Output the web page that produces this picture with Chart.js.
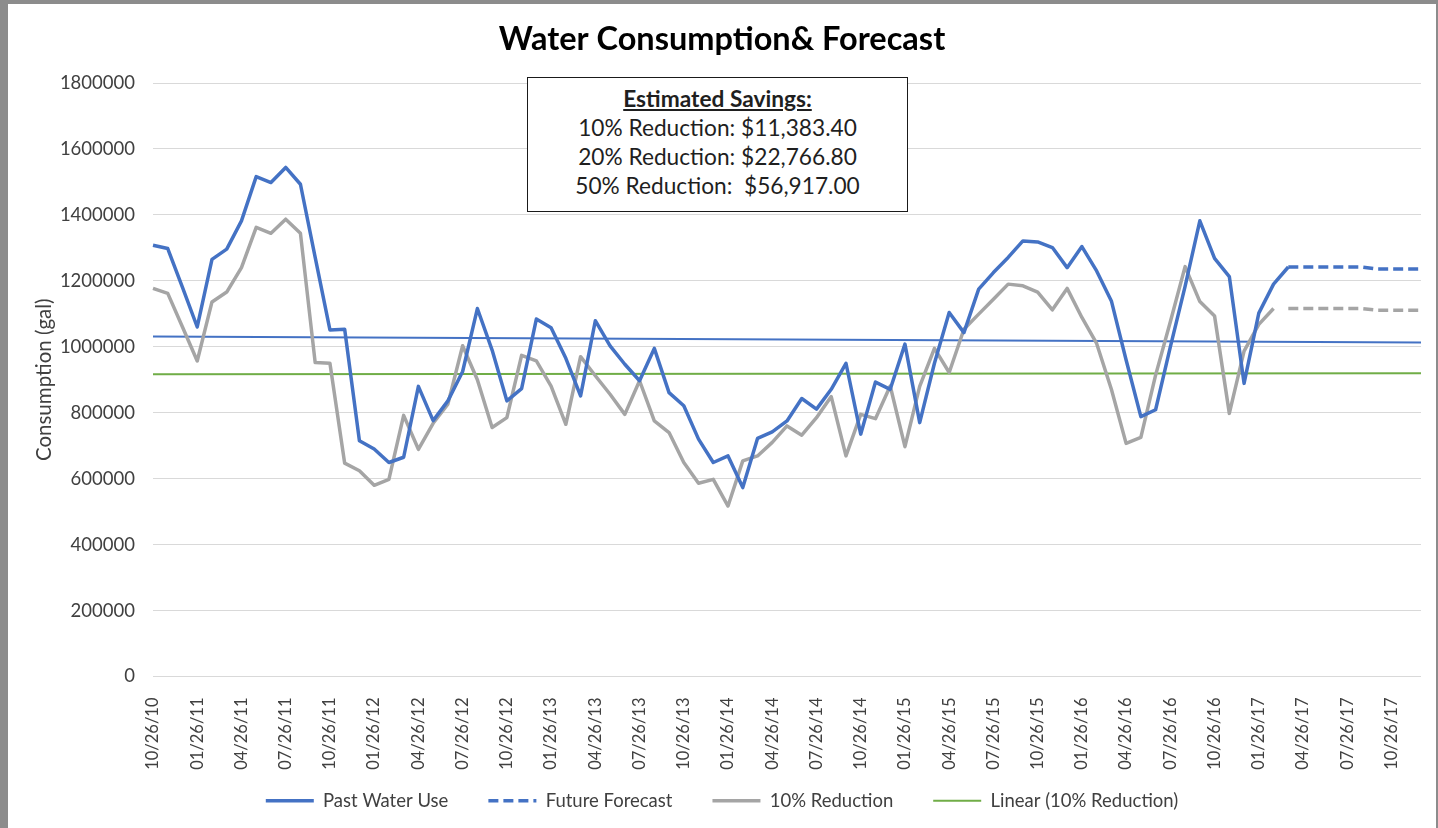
<!DOCTYPE html>
<html>
<head>
<meta charset="utf-8">
<title>Water Consumption& Forecast</title>
<script src="https://cdn.jsdelivr.net/npm/chart.js@4.4.1/dist/chart.umd.min.js"></script>
<style>
  html, body { margin: 0; padding: 0; background: #8c8c8c; overflow: hidden; }
  #frame { position: absolute; left: 8px; top: 4px; width: 1428px; height: 824px; background: #fff; }
  #waterChart { position: absolute; left: 0; top: 0; }
  #savings {
    position: absolute; left: 519px; top: 73px; width: 381px; height: 135px;
    box-sizing: border-box; border: 1px solid #1a1a1a; background: #fff;
    font-family: Lato, sans-serif; font-size: 22.7px; line-height: 29px; color: #1f1f1f;
    text-align: center; white-space: pre; padding-top: 6px;
  }
  #savings b { text-decoration: underline; }
</style>
</head>
<body>
<div id="frame">
  <canvas id="waterChart" width="1428" height="824"></canvas>
  <div id="savings"><b>Estimated Savings:</b>
10% Reduction: $11,383.40
20% Reduction: $22,766.80
50% Reduction:  $56,917.00</div>
</div>
<script>
// months on the x axis (every third one gets a label)
const months = [
	'10/26/10', '11/26/10', '12/26/10',
	'01/26/11', '02/26/11', '03/26/11', '04/26/11', '05/26/11', '06/26/11', '07/26/11', '08/26/11', '09/26/11', '10/26/11', '11/26/11', '12/26/11',
	'01/26/12', '02/26/12', '03/26/12', '04/26/12', '05/26/12', '06/26/12', '07/26/12', '08/26/12', '09/26/12', '10/26/12', '11/26/12', '12/26/12',
	'01/26/13', '02/26/13', '03/26/13', '04/26/13', '05/26/13', '06/26/13', '07/26/13', '08/26/13', '09/26/13', '10/26/13', '11/26/13', '12/26/13',
	'01/26/14', '02/26/14', '03/26/14', '04/26/14', '05/26/14', '06/26/14', '07/26/14', '08/26/14', '09/26/14', '10/26/14', '11/26/14', '12/26/14',
	'01/26/15', '02/26/15', '03/26/15', '04/26/15', '05/26/15', '06/26/15', '07/26/15', '08/26/15', '09/26/15', '10/26/15', '11/26/15', '12/26/15',
	'01/26/16', '02/26/16', '03/26/16', '04/26/16', '05/26/16', '06/26/16', '07/26/16', '08/26/16', '09/26/16', '10/26/16', '11/26/16', '12/26/16',
	'01/26/17', '02/26/17', '03/26/17', '04/26/17', '05/26/17', '06/26/17', '07/26/17', '08/26/17', '09/26/17', '10/26/17', '11/26/17', '12/26/17',
]

// gallons per month
const pastUse = [
	1308000, 1298000, 1180000, 1060000, 1265000, 1296000, 1382000, 1516000, 1498000, 1544000,
	1493000, 1271000, 1051000, 1053000, 715000, 690000, 649000, 665000, 880000, 776000,
	836000, 925000, 1116000, 990000, 836000, 873000, 1084000, 1058000, 965000, 851000,
	1079000, 1003000, 947000, 897000, 995000, 861000, 821000, 720000, 649000, 669000,
	573000, 722000, 742000, 775000, 843000, 811000, 871000, 950000, 735000, 893000,
	871000, 1008000, 770000, 950000, 1104000, 1043000, 1175000, 1225000, 1271000, 1321000,
	1318000, 1301000, 1240000, 1304000, 1230000, 1139000, 960000, 788000, 809000, 1000000,
	1183000, 1382000, 1268000, 1213000, 889000, 1102000, 1190000, 1242000,
]
const reduction10 = [
	1177000, 1162000, 1060000, 957000, 1136000, 1166000, 1240000, 1362000, 1344000, 1387000,
	1344000, 952000, 950000, 647000, 624000, 580000, 598000, 792000, 689000, 768000,
	826000, 1003000, 900000, 755000, 785000, 974000, 957000, 881000, 765000, 970000,
	912000, 856000, 795000, 897000, 775000, 740000, 649000, 586000, 598000, 517000,
	654000, 669000, 710000, 760000, 732000, 785000, 849000, 669000, 795000, 782000,
	881000, 697000, 880000, 995000, 922000, 1053000, 1099000, 1144000, 1190000, 1185000,
	1166000, 1112000, 1177000, 1089000, 1010000, 871000, 707000, 725000, 914000, 1076000,
	1243000, 1137000, 1093000, 798000, 987000, 1068000, 1116000,
]
// forecasts start at the last month of past use (03/26/17)
const futureForecast = [1242000, 1242000, 1242000, 1242000, 1242000, 1242000, 1236000, 1236000, 1236000, 1236000]
const reductionForecast = [1116000, 1116000, 1116000, 1116000, 1116000, 1116000, 1111000, 1111000, 1111000, 1111000]
// trendlines, first and last month
const pastTrend = [1031000, 1013000]
const reductionTrend = [917000, 920000]

const legendNames = ['Past Water Use', 'Future Forecast', '10% Reduction', 'Linear (10% Reduction)']

const BLUE = '#4472C4'
const GRAY = '#A5A5A5'
const GREEN = '#70AD47'
const TXT = '#404040'

const forecastStart = pastUse.length - 1
const asPoints = (vals, start) => vals.map((v, i) => ({ x: months[start + i], y: v }))
const trendPoints = vals => [{ x: months[0], y: vals[0] }, { x: months[months.length - 1], y: vals[1] }]

const ctx = document.getElementById('waterChart').getContext('2d')
const myChart = new Chart(ctx, {
	type: 'line',
	data: {
		labels: months,
		datasets: [
			{ label: 'Past Water Use', data: pastUse, borderColor: BLUE, borderWidth: 3.5, order: 1 },
			{ label: 'Future Forecast', data: asPoints(futureForecast, forecastStart), borderColor: BLUE, borderWidth: 3.5, borderDash: [10, 5], order: 1 },
			{ label: '10% Reduction', data: reduction10, borderColor: GRAY, borderWidth: 3.5, order: 2 },
			{ label: '10% Reduction Forecast', data: asPoints(reductionForecast, forecastStart), borderColor: GRAY, borderWidth: 3.5, borderDash: [10, 5], order: 2 },
			{ label: 'Linear (10% Reduction)', data: trendPoints(reductionTrend), borderColor: GREEN, borderWidth: 2, order: 3 },
			{ label: 'Linear (Past Water Use)', data: trendPoints(pastTrend), borderColor: BLUE, borderWidth: 2, order: 3 },
		],
	},
	options: {
		responsive: false,
		animation: false,
		devicePixelRatio: 1,
		layout: { padding: { left: 0, right: 0, top: 0, bottom: 8 } },
		elements: {
			point: { radius: 0, hoverRadius: 0 },
			line: { tension: 0, borderJoinStyle: 'round', fill: false },
		},
		plugins: {
			tooltip: { enabled: false },
			title: {
				display: true,
				text: 'Water Consumption& Forecast',
				color: '#000',
				font: { family: 'Lato', size: 32.5, weight: 'bold' },
				padding: { top: 16, bottom: 24 },
			},
			legend: {
				position: 'bottom',
				labels: {
					usePointStyle: true,
					pointStyleWidth: 48,
					padding: 40,
					color: TXT,
					font: { family: 'Lato', size: 18.5 },
					generateLabels: chart => Chart.defaults.plugins.legend.labels.generateLabels(chart)
						.filter(item => legendNames.includes(item.text))
						.map(item => {
							const ds = chart.data.datasets[item.datasetIndex]
							return { ...item, pointStyle: 'line', lineWidth: ds.borderWidth, lineDash: ds.borderDash || [], strokeStyle: ds.borderColor }
						}),
				},
			},
		},
		scales: {
			x: {
				offset: false,
				grid: { display: false },
				border: { display: false },
				ticks: {
					autoSkip: false,
					minRotation: 90,
					maxRotation: 90,
					padding: 13,
					color: TXT,
					font: { family: 'Lato', size: 16.5 },
					callback: (value, index) => (index % 3 === 0 ? months[index] : ''),
				},
				afterFit: scale => {
					scale.height = 75
					scale.paddingLeft = 0
					scale.paddingRight = 15
					// labels reach into the legend's padding, so do not clip them to the axis box
					scale._computeLabelArea = () => null
				},
			},
			y: {
				min: 0,
				max: 1800000,
				grid: { color: '#d9d9d9', drawTicks: false },
				border: { display: false },
				ticks: {
					stepSize: 200000,
					padding: 18,
					color: TXT,
					font: { family: 'Lato', size: 18.5 },
					callback: value => String(value),
				},
				title: {
					display: true,
					text: 'Consumption (gal)',
					color: TXT,
					font: { family: 'Lato', size: 20.5 },
					padding: { top: 24, bottom: 0 },
				},
				afterFit: scale => { scale.width = 145 },
			},
		},
	},
})
</script>
</body>
</html>
